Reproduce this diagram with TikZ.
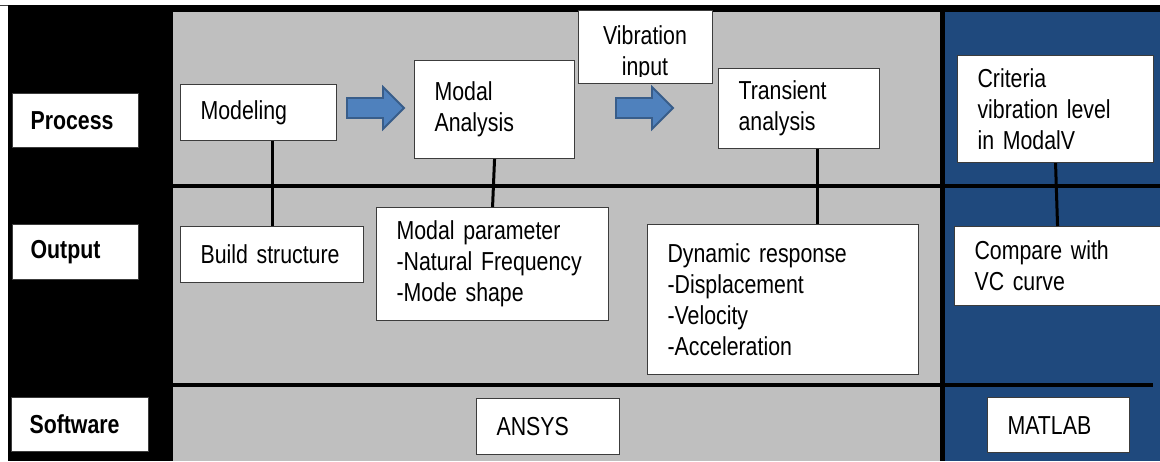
\documentclass[tikz,border=0pt]{standalone}
\usepackage{fontspec}
\setmainfont{Liberation Sans}[FakeStretch=0.82]
\definecolor{panelgray}{RGB}{191,191,191}
\definecolor{panelblue}{RGB}{31,73,125}
\definecolor{arrowfill}{RGB}{79,129,189}
\definecolor{arrowedge}{RGB}{56,93,138}
\definecolor{boxedge}{RGB}{60,60,60}

\begin{document}
\begin{tikzpicture}[x=1pt,y=-1pt,
  txt/.style={font=\fontsize{26}{31}\selectfont},
  box/.style={draw=boxedge, line width=1.1pt, fill=white, inner xsep=20pt,
    inner ysep=0pt, align=left, anchor=north west, txt},
  rowlabel/.style={box, inner xsep=18pt, font=\fontsize{26}{31}\selectfont\bfseries},
  conn/.style={line width=3pt, black},
  bluearrow/.style={fill=arrowfill, draw=arrowedge, line width=1.8pt, line join=miter},
]
\clip (0,0) rectangle (1160,461);
\fill[white] (0,0) rectangle (1160,461);

% frame and panels
\draw[line width=1pt, black!75] (0,5.8) -- (7.5,5.8);
\fill[black] (7.5,5.2) rectangle (1160,461);
\fill[panelgray] (173,12) rectangle (940,461);
\fill[panelblue] (945,12) rectangle (1160,461);
\fill[black] (173,184) rectangle (1160,188);
\fill[black] (173,383) rectangle (1153,386.5);

% row labels
\node[rowlabel, text width=90pt, minimum height=54pt] (process) at (12,93) {Process};
\node[rowlabel, text width=90pt, minimum height=55pt] (output) at (12,224) {Output};
\node[rowlabel, text width=101pt, minimum height=54pt] (software) at (11,397) {Software};

% process row
\node[box, text width=116pt, minimum height=56pt] (modeling) at (180,84) {Modeling};
\node[box, text width=120pt, minimum height=98pt] (modal) at (414,60) {Modal\\Analysis};
\node[box, text width=94pt, minimum height=73pt] (vib) at (578,10) {};
\begin{scope}
  \clip (vib.north west) rectangle ([yshift=8pt]vib.south east);
  \node[txt, align=center, inner sep=0pt] (vibtext) at (645,53.5) {Vibration\\input};
\end{scope}
\node[box, text width=121pt, minimum height=80pt] (transient) at (718,68) {Transient\\analysis};
\node[box, text width=156pt, minimum height=107pt] (criteria) at (957,55) {Criteria\\vibration level\\in ModalV};

% output row
\node[box, text width=143pt, minimum height=56pt] (buildstr) at (180,226) {Build structure};
\node[box, text width=192pt, minimum height=113pt] (modalparam) at (376,207) {Modal parameter\\-Natural Frequency\\-Mode shape};
\node[box, text width=231pt, minimum height=150pt] (dynamic) at (647,224) {Dynamic response\\-Displacement\\-Velocity\\-Acceleration};
\node[box, text width=170pt, minimum height=79pt] (compare) at (954,226) {Compare with\\VC curve};

% software row
\node[box, text width=103pt, minimum height=56pt] (ansys) at (476,398) {ANSYS};
\node[box, text width=102pt, minimum height=55pt] (matlab) at (987,397) {MATLAB};

% links between process steps and their outputs
\draw[conn] (modeling.south -| buildstr.north) -- (buildstr.north);
\draw[conn] (modal.south) -- (modalparam.north);
\draw[conn] ([xshift=18pt]transient.south) -- ([xshift=18pt]transient.south |- dynamic.north);
\draw[conn] (criteria.south) -- ([xshift=-2pt]compare.north);

% flow arrows
\draw[bluearrow] (347,98) -- (383,98) -- (383,87) -- (404,108) -- (383,129) -- (383,118) -- (347,118) -- cycle;
\draw[bluearrow] (616,98) -- (652,98) -- (652,87) -- (673,108) -- (652,129) -- (652,118) -- (616,118) -- cycle;
\end{tikzpicture}
\end{document}
